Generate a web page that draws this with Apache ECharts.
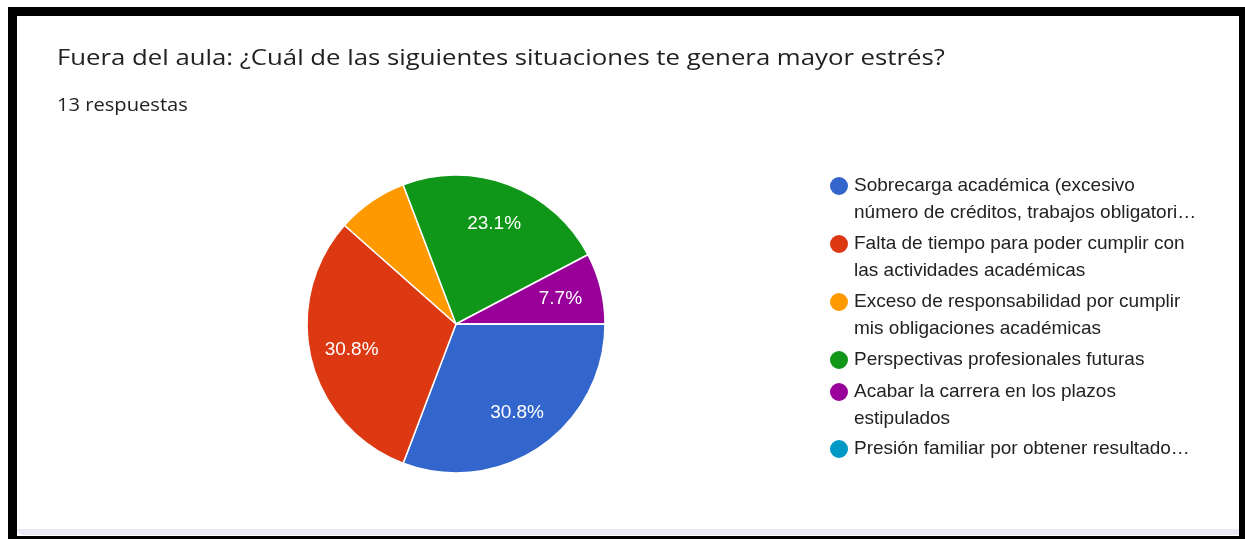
<!DOCTYPE html>
<html>
<head>
<meta charset="utf-8">
<script src="https://cdn.jsdelivr.net/npm/echarts@6/dist/echarts.min.js"></script>
<style>
  html, body { margin: 0; padding: 0; width: 1245px; height: 539px; background: #fff; overflow: hidden; }
  #frame { position: absolute; left: 8px; top: 7px; width: 1237px; height: 532px; background: #000; }
  #card { position: absolute; left: 17px; top: 16px; width: 1222px; height: 520px; background: #fff; }
  #card-edge { position: absolute; left: 0; top: 513px; width: 1222px; height: 6px; background: #ebe9f4; border-bottom-left-radius: 8px; }
  #chart { position: absolute; left: 0; top: 0; width: 1245px; height: 539px; }
</style>
</head>
<body>
<div id="frame"></div>
<div id="card"><div id="card-edge"></div></div>
<div id="chart"></div>
<script>
// Survey question and answer count
const questionTitle = 'Fuera del aula: ¿Cuál de las siguientes situaciones te genera mayor estrés?';
const responsesText = '13 respuestas';

// Answer options (legend text, wrapped the way it is shown)
const categories = [
  'Sobrecarga académica (excesivo\nnúmero de créditos, trabajos obligatori…',
  'Falta de tiempo para poder cumplir con\nlas actividades académicas',
  'Exceso de responsabilidad por cumplir\nmis obligaciones académicas',
  'Perspectivas profesionales futuras',
  'Acabar la carrera en los plazos\nestipulados',
  'Presión familiar por obtener resultado…'
];

// Number of answers for each option
const counts = [4, 4, 1, 3, 1, 0];

// Options whose slice carries no percentage label
const unlabelled = ['Exceso de responsabilidad por cumplir\nmis obligaciones académicas'];

const palette = ['#3366cc', '#dc3912', '#ff9900', '#109618', '#990099', '#0099c6'];

const total = counts.reduce((a, b) => a + b, 0);
const pieData = categories.map((name, i) => ({
  name: name,
  value: counts[i],
  itemStyle: { color: palette[i] }
}));
const labelData = categories.map((name, i) => ({
  name: name,
  value: counts[i],
  label: { show: counts[i] > 0 && unlabelled.indexOf(name) < 0 }
}));

// One legend block per option so the marker lines up with the first text line.
// Wrapped entries get an empty leading line, which keeps the first line at the
// vertical centre of the text block (where the marker sits).
const legendCenters = [186, 244, 302, 360, 392, 449];
const lineH = 26.5;
const legends = categories.map((name, i) => {
  const twoLines = name.indexOf('\n') >= 0;
  return {
    orient: 'vertical',
    left: 828,
    top: legendCenters[i] - (twoLines ? 1.5 * lineH : 0.5 * lineH),
    padding: 0,
    itemGap: 0,
    itemWidth: 20,
    itemHeight: 20,
    icon: 'circle',
    selectedMode: false,
    data: [name],
    formatter: n => (twoLines ? ' \n' : '') + n,
    textStyle: {
      fontFamily: 'Liberation Sans, Arial, sans-serif',
      fontSize: 19,
      color: '#222222',
      lineHeight: lineH
    }
  };
});

const chart = echarts.init(document.getElementById('chart'), null, { renderer: 'canvas' });
chart.setOption({
  backgroundColor: 'transparent',
  animation: false,
  // heading texts, set in a wide face (stretched horizontally from the left edge)
  graphic: [
    {
      type: 'text',
      x: 57, y: 59,
      scaleX: 1.17,
      silent: true,
      style: {
        text: questionTitle,
        font: '22px "Open Sans", sans-serif',
        fill: '#202124',
        align: 'left',
        verticalAlign: 'middle'
      }
    },
    {
      type: 'text',
      x: 57, y: 106,
      scaleX: 1.15,
      silent: true,
      style: {
        text: responsesText,
        font: '17.5px "Open Sans", sans-serif',
        fill: '#202124',
        align: 'left',
        verticalAlign: 'middle'
      }
    }
  ],
  legend: legends,
  series: [
    {
      type: 'pie',
      center: [456, 324],
      radius: [0, 149],
      startAngle: 0,
      clockwise: true,
      silent: true,
      label: { show: false },
      labelLine: { show: false },
      itemStyle: { borderColor: '#ffffff', borderWidth: 1.5 },
      emphasis: { disabled: true },
      data: pieData
    },
    {
      // transparent ring that only carries the percentage labels
      type: 'pie',
      center: [456, 324],
      radius: [60, 149],
      startAngle: 0,
      clockwise: true,
      silent: true,
      itemStyle: { color: 'rgba(0,0,0,0)', borderWidth: 0 },
      emphasis: { disabled: true },
      labelLine: { show: false },
      label: {
        position: 'inside',
        fontFamily: 'Liberation Sans, Arial, sans-serif',
        fontSize: 19,
        color: '#ffffff',
        formatter: p => (p.value / total * 100).toFixed(1) + '%'
      },
      data: labelData
    }
  ]
});
</script>
</body>
</html>
